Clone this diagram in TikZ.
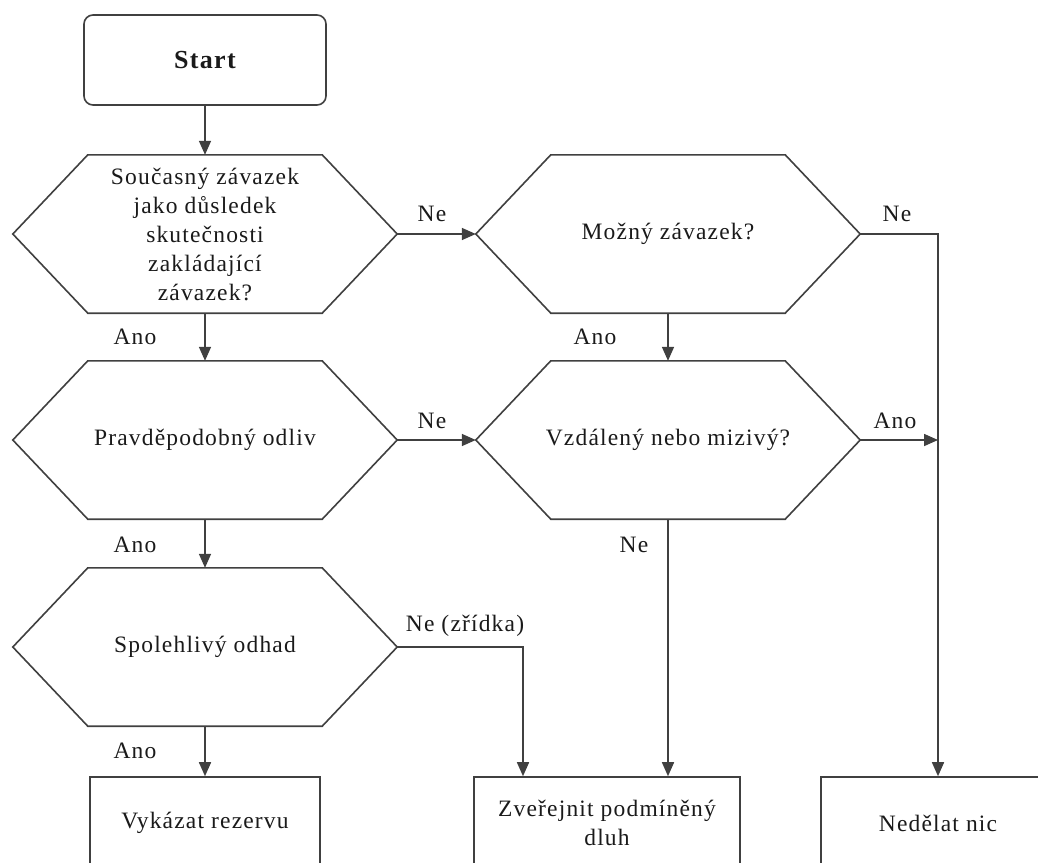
\documentclass[tikz,border=0pt]{standalone}
\usepackage{fontspec}
\setmainfont{Liberation Serif}[LetterSpace=5]
\usetikzlibrary{arrows.meta}
\definecolor{linec}{HTML}{404040}
\definecolor{textc}{HTML}{1A1A1A}
\newcommand\hexoutline[1]{\draw[shapeline] ([xshift=75pt]#1.north west) -- ([xshift=-75pt]#1.north east) -- (#1.east) -- ([xshift=-75pt]#1.south east) -- ([xshift=75pt]#1.south west) -- (#1.west) -- cycle;}
\begin{document}
\begin{tikzpicture}[x=1pt,y=-1pt,
  txt/.style={font=\fontsize{23.5}{29}\selectfont, text=textc},
  hexnode/.style={txt, minimum width=384pt, minimum height=158pt, inner sep=0pt, align=center},
  shapeline/.style={draw=linec, line width=1.6pt},
  boxnode/.style={txt, shapeline, minimum height=92pt, inner sep=0pt, align=center},
  startnode/.style={shapeline, rounded corners=9pt, minimum width=242pt, minimum height=90pt, inner sep=0pt,
    font=\fontsize{26}{30}\selectfont\bfseries, text=textc},
  lbl/.style={txt, inner sep=0pt},
  arr/.style={draw=linec, line width=1.6pt, -{Triangle[length=14pt,width=12pt]}}
]
\useasboundingbox (0,0) rectangle (1038,862);
\clip (0,0) rectangle (1038,862);
\fill[white] (0,0) rectangle (1038,862);

\node[startnode] (start) at (205,60) {Start};

\node[hexnode] (h1) at (205,234) {Současný závazek\\jako důsledek\\skutečnosti\\zakládající\\závazek?};
\node[hexnode] (h2) at (668,234) {Možný závazek?};
\node[hexnode] (h3) at (205,440) {Pravděpodobný odliv};
\node[hexnode] (h4) at (668,440) {Vzdálený nebo mizivý?};
\node[hexnode] (h5) at (205,647) {Spolehlivý odhad};
\hexoutline{h1}
\hexoutline{h2}
\hexoutline{h3}
\hexoutline{h4}
\hexoutline{h5}

\node[boxnode, minimum width=230pt] (b1) at (205,823) {Vykázat rezervu};
\node[boxnode, minimum width=266pt] (b2) at (607,823) {Zveřejnit podmíněný\\dluh};
\node[boxnode, minimum width=234pt] (b3) at (938,823) {Nedělat nic};

\coordinate (j) at (938,440);

\draw[arr] (start.south) -- (h1.north);
\draw[arr] (h1.east) -- (h2.west);
\draw[arr] (h1.south) -- (h3.north);
\draw[arr] (h2.south) -- (h4.north);
\draw[arr] (h2.east) -| (b3.north);
\draw[arr] (h3.east) -- (h4.west);
\draw[arr] (h4.east) -- (j);
\draw[arr] (h3.south) -- (h5.north);
\draw[arr] (h4.south) -- (h4.south |- b2.north);
\draw[arr] (h5.east) -| ([xshift=-84pt]b2.north);
\draw[arr] (h5.south) -- (b1.north);

\node[lbl] (l1) at (432,214) {Ne};
\node[lbl] (l2) at (897,214) {Ne};
\node[lbl] (l3) at (135,337) {Ano};
\node[lbl] (l4) at (595,337) {Ano};
\node[lbl] (l5) at (432,421) {Ne};
\node[lbl] (l6) at (895,421) {Ano};
\node[lbl] (l7) at (135,545) {Ano};
\node[lbl] (l8) at (634,545) {Ne};
\node[lbl] (l9) at (465,626) {Ne (zřídka)};
\node[lbl] (l10) at (135,751) {Ano};
\end{tikzpicture}
\end{document}
